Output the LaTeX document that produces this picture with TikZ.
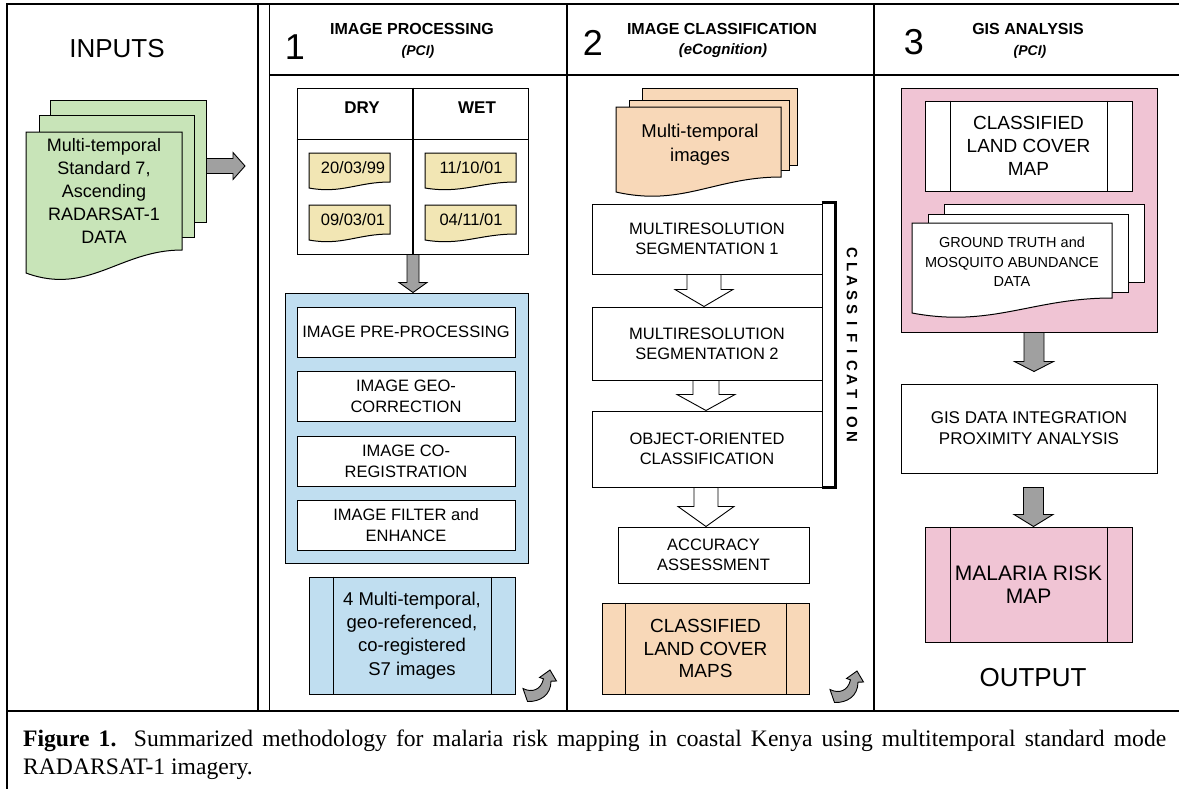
\documentclass[tikz,border=0pt]{standalone}
\usepackage{fontspec}
\setmainfont{Liberation Sans}
\newfontfamily\capserif{Liberation Serif}
\usetikzlibrary{calc}
\definecolor{docgreen}{RGB}{200,228,184}
\definecolor{dateyel}{RGB}{242,230,180}
\definecolor{lblue}{RGB}{192,222,240}
\definecolor{peach}{RGB}{248,216,184}
\definecolor{lpink}{RGB}{240,196,212}
\definecolor{agray}{RGB}{160,160,160}
\newcommand\fsz[2]{\fontsize{#1}{#2}\selectfont}
% document shape: style, x1, ytop, x2, yleft-bottom, yright-bottom
\newcommand\docshape[6]{%
 \pgfmathsetmacro\dA{#2+0.6*(#4-#2)}%
 \pgfmathsetmacro\dB{#2+0.4*(#4-#2)}%
 \pgfmathsetmacro\dD{2*#5-#6}%
 \draw[#1] (#2,#3) -- (#4,#3) -- (#4,#6) .. controls (\dA,#6) and (\dB,\dD) .. (#2,#5) -- cycle;}
% block arrow to the right: style, start, tip, half shaft, half head, head length
\newcommand\garrowH[6]{%
 \filldraw[#1] let \p1=#2, \p2=#3 in (\x1,\y2+#4pt) -- (\x2-#6pt,\y2+#4pt) -- (\x2-#6pt,\y2+#5pt) -- (\x2,\y2) -- (\x2-#6pt,\y2-#5pt) -- (\x2-#6pt,\y2-#4pt) -- (\x1,\y2-#4pt) -- cycle;}
% block arrow downwards
\newcommand\garrowV[6]{%
 \filldraw[#1] let \p1=#2, \p2=#3 in (\x2-#4pt,\y1) -- (\x2+#4pt,\y1) -- (\x2+#4pt,\y2+#6pt) -- (\x2+#5pt,\y2+#6pt) -- (\x2,\y2) -- (\x2-#5pt,\y2+#6pt) -- (\x2-#4pt,\y2+#6pt) -- cycle;}
\newcommand\curlarrow[2]{%
 \begin{scope}[shift={(#1,#2)}]
 \filldraw[garrowst] (0,18.5) .. controls (9,23) and (18,20) .. (20.5,8.8) -- (16.5,7.5) -- (27,0) -- (33.5,11) -- (28,11.2) .. controls (28,25) and (17,32) .. (4.5,31.5) -- cycle;
 \end{scope}}
\tikzset{
 frame/.style={line width=1.6pt},
 sepline/.style={line width=1.2pt},
 box/.style={draw, line width=1pt, fill=white, align=center, inner sep=0pt},
 plainbox/.style={draw, line width=1pt, inner sep=0pt},
 garrowst/.style={draw, line width=0.9pt, fill=agray},
 harrow/.style={draw, line width=0.9pt, fill=white},
 lbl/.style={inner sep=0pt, align=center},
 thin/.style={line width=1pt},
}
\begin{document}
\begin{tikzpicture}[x=1pt,y=-1pt]
\useasboundingbox (0,0) rectangle (1179,788);
\clip (0,0) rectangle (1179,788);
\fill[white] (0,0) rectangle (1179,788);
% frame
\draw[frame] (7,800) -- (7,4) -- (1190,4);
\draw[sepline] (7,711) -- (1190,711);
\draw[sepline] (258,4) -- (258,711);
\draw[sepline] (269.5,4) -- (269.5,711);
\draw[sepline] (567,4) -- (567,711);
\draw[sepline] (874,4) -- (874,711);
\draw[sepline] (269.5,75) -- (1190,75);
% headers
\node[lbl, font=\fsz{26}{30}] (hin) at (117,49) {INPUTS};
\node[lbl, font=\fsz{36}{40}] (h1) at (295,47) {1};
\node[lbl, font=\bfseries\fsz{16}{18}] (h1t) at (412,28.5) {IMAGE PROCESSING};
\node[lbl, font=\bfseries\itshape\fsz{14}{16}] (h1s) at (418,52) {(PCI)};
\node[lbl, font=\fsz{36}{40}] (h2) at (593,43) {2};
\node[lbl, font=\bfseries\fsz{16}{18}] (h2t) at (722,28.5) {IMAGE CLASSIFICATION};
\node[lbl, font=\bfseries\itshape\fsz{15}{17}] (h2s) at (723,51) {(eCognition)};
\node[lbl, font=\fsz{36}{40}] (h3) at (914,42) {3};
\node[lbl, font=\bfseries\fsz{16}{18}] (h3t) at (1028,29) {GIS ANALYSIS};
\node[lbl, font=\bfseries\itshape\fsz{14}{16}] (h3s) at (1030,52) {(PCI)};
% inputs
\node[plainbox, fill=docgreen, minimum width=156, minimum height=122] (gback) at (128,161) {};
\node[plainbox, fill=docgreen, minimum width=155, minimum height=122] (gmid) at (116.5,176) {};
\docshape{draw, line width=1pt, fill=docgreen}{26}{132}{182}{273}{250}
\node[lbl, font=\fsz{18}{23}] (gtext) at (104,191) {Multi-temporal\\Standard 7,\\Ascending\\RADARSAT-1\\DATA};
\coordinate (intip) at (245,166);
\garrowH{garrowst}{(gback.east |- intip)}{(intip)}{7.5}{13.5}{12}
% column 1
\node[plainbox, fill=white, minimum width=231, minimum height=166] (tbl) at (412.5,171) {};
\draw[thin] ($(tbl.north west)+(0,52)$) -- ($(tbl.north east)+(0,52)$);
\draw[line width=2pt] ($(tbl.north)+(0.5,0)$) -- ($(tbl.south)+(0.5,0)$);
\node[lbl, font=\bfseries\fsz{17}{20}] (dry) at (362,108) {DRY};
\node[lbl, font=\bfseries\fsz{17}{20}] (wet) at (477,108) {WET};
\docshape{draw, line width=1pt, fill=dateyel}{309}{153}{390}{188}{182}
\docshape{draw, line width=1pt, fill=dateyel}{309}{205}{390}{240}{234}
\docshape{draw, line width=1pt, fill=dateyel}{425}{153}{516}{188}{182}
\docshape{draw, line width=1pt, fill=dateyel}{425}{205}{516}{240}{234}
\node[lbl, font=\fsz{16.5}{20}] (d1) at (353,168) {20/03/99};
\node[lbl, font=\fsz{16.5}{20}] (d2) at (353,220) {09/03/01};
\node[lbl, font=\fsz{16.5}{20}] (d3) at (471,168) {11/10/01};
\node[lbl, font=\fsz{16.5}{20}] (d4) at (471,220) {04/11/01};
\node[plainbox, fill=lblue, minimum width=243, minimum height=270] (blue) at (406.5,428) {};
\garrowV{garrowst}{($(tbl.south)+(0.5,0)$)}{($(tbl.south |- blue.north)+(0.5,0)$)}{6}{14}{10}
\node[box, font=\fsz{16.5}{21}, minimum width=218, minimum height=50] (pre) at (406,332) {IMAGE PRE-PROCESSING};
\node[box, font=\fsz{16.5}{21}, minimum width=218, minimum height=50] (geo) at (406,396) {IMAGE GEO-\\CORRECTION};
\node[box, font=\fsz{16.5}{21}, minimum width=218, minimum height=50] (coreg) at (406,461) {IMAGE CO-\\REGISTRATION};
\node[box, font=\fsz{16.5}{21}, minimum width=218, minimum height=50] (filt) at (406,525) {IMAGE FILTER and\\ENHANCE};
\node[box, fill=lblue, font=\fsz{18.5}{23.3}, minimum width=206, minimum height=117] (out1) at (412,635.5) {4 Multi-temporal,\\geo-referenced,\\co-registered\\S7 images};
\draw[thin] ($(out1.north west)+(25,0)$) -- ($(out1.south west)+(25,0)$);
\draw[thin] ($(out1.north east)+(-24,0)$) -- ($(out1.south east)+(-24,0)$);
\curlarrow{523}{670}
% column 2
\node[plainbox, fill=peach, minimum width=155, minimum height=77] (pback) at (719.5,126.5) {};
\node[plainbox, fill=peach, minimum width=160, minimum height=70] (pmid) at (709,135) {};
\docshape{draw, line width=1pt, fill=peach}{616}{107}{781}{192}{177}
\node[lbl, font=\fsz{18.5}{24}] (ptext) at (700,145) {Multi-temporal\\images};
\node[plainbox, minimum width=13, minimum height=284] (brk) at (828.5,345) {};
\draw[line width=2.6pt] (brk.north west) -- (brk.north east) -- (brk.south east) -- (brk.south west);
\node[box, font=\fsz{16.5}{20}, minimum width=230, minimum height=70] (seg1) at (707,239) {MULTIRESOLUTION\\SEGMENTATION 1};
\node[box, font=\fsz{16.5}{20}, minimum width=230, minimum height=73] (seg2) at (707,343.5) {MULTIRESOLUTION\\SEGMENTATION 2};
\node[box, font=\fsz{16.5}{20}, minimum width=230, minimum height=76] (obj) at (707,449) {OBJECT-ORIENTED\\CLASSIFICATION};
\node[box, font=\fsz{16.5}{20}, minimum width=191, minimum height=56] (acc) at (713.5,555) {ACCURACY\\ASSESSMENT};
\garrowV{harrow}{($(seg1.south)+(-3,0)$)}{($(seg2.north)+(-3,0)$)}{17}{29}{17}
\garrowV{harrow}{($(seg2.south)+(-1,0)$)}{($(obj.north)+(-1,0)$)}{13}{29}{16}
\garrowV{harrow}{($(obj.south)+(-1,0)$)}{($(obj.south |- acc.north)+(-1,0)$)}{12}{28}{20}
\foreach \L [count=\i from 0] in {C,L,A,S,S,I,F,I,C,A,T,I,O,N}
  \node[lbl, rotate=-90, font=\bfseries\fsz{15}{15}] (cl\i) at (852,253+14.15*\i) {\L};
\node[box, fill=peach, font=\fsz{19}{22.5}, minimum width=207, minimum height=91] (clm) at (705.5,648.5) {CLASSIFIED\\LAND COVER\\MAPS};
\draw[thin] ($(clm.north west)+(24,0)$) -- ($(clm.south west)+(24,0)$);
\draw[thin] ($(clm.north east)+(-23,0)$) -- ($(clm.south east)+(-23,0)$);
\curlarrow{830}{671}
% column 3
\node[plainbox, fill=lpink, minimum width=256, minimum height=244] (pinkbg) at (1029,210) {};
\node[box, font=\fsz{19}{23}, minimum width=207, minimum height=90] (clmap) at (1028.5,146) {CLASSIFIED\\LAND COVER\\MAP};
\draw[thin] ($(clmap.north west)+(26,0)$) -- ($(clmap.south west)+(26,0)$);
\draw[thin] ($(clmap.north east)+(-25,0)$) -- ($(clmap.south east)+(-25,0)$);
\node[plainbox, fill=white, minimum width=200, minimum height=78] (gtback) at (1044,243) {};
\node[plainbox, fill=white, minimum width=200, minimum height=78] (gtmid) at (1028,253) {};
\docshape{draw, line width=1pt, fill=white}{912}{223}{1112}{313}{298}
\node[lbl, font=\fsz{14.5}{19.5}] (gttext) at (1012,262) {GROUND TRUTH and\\MOSQUITO ABUNDANCE\\DATA};
\node[box, font=\fsz{17}{21}, minimum width=256, minimum height=89] (gis) at (1029,428.5) {GIS DATA INTEGRATION\\PROXIMITY ANALYSIS};
\node[box, fill=lpink, font=\fsz{21}{23}, minimum width=207, minimum height=115] (mal) at (1028.5,584.5) {MALARIA RISK\\MAP};
\draw[thin] ($(mal.north west)+(26,0)$) -- ($(mal.south west)+(26,0)$);
\draw[thin] ($(mal.north east)+(-25,0)$) -- ($(mal.south east)+(-25,0)$);
\garrowV{garrowst}{($(pinkbg.south)+(5,0)$)}{($(gis.north)+(5,-12)$)}{10}{19.5}{10}
\garrowV{garrowst}{($(gis.south)+(5,14)$)}{($(mal.north)+(5,0)$)}{10}{19.5}{12}
\node[lbl, font=\fsz{26}{30}] (outp) at (1033,678) {OUTPUT};
% caption
\node[anchor=base west, inner sep=0pt, font=\capserif\fsz{23.6}{28}] (cap1) at (23,746) {\makebox[1143pt][s]{\textbf{Figure 1.} Summarized methodology for malaria risk mapping in coastal Kenya using multitemporal standard mode}};
\node[anchor=base west, inner sep=0pt, font=\capserif\fsz{23.6}{28}] (cap2) at (23,774) {RADARSAT-1 imagery.};
\end{tikzpicture}
\end{document}
